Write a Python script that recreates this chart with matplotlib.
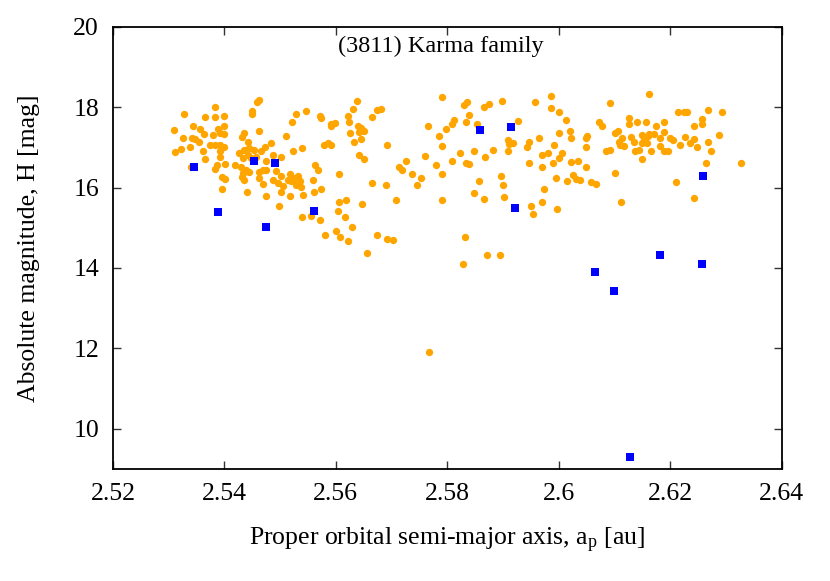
import numpy as np
import matplotlib
matplotlib.use("Agg")
import matplotlib.pyplot as plt

plt.rcParams['font.family'] = ['Liberation Serif', 'DejaVu Serif']
plt.rcParams['mathtext.fontset'] = 'custom'
plt.rcParams['mathtext.rm'] = 'Liberation Serif'
plt.rcParams['mathtext.it'] = 'Liberation Serif'

# family members (orange) : proper semi-major axis [au], absolute magnitude H [mag]
family_a = [
    2.5309, 2.5328, 2.5326, 2.5312, 2.5323, 2.5338, 2.5344, 2.5342, 2.5348, 2.5355,
    2.5356, 2.5364, 2.5366, 2.5383, 2.5383, 2.5399, 2.5399, 2.5388, 2.5380, 2.5392,
    2.5400, 2.5374, 2.5383, 2.5392, 2.5399, 2.5392, 2.5392, 2.5362, 2.5366, 2.5341,
    2.5386, 2.5383, 2.5401, 2.5396, 2.5401, 2.5396, 2.5458, 2.5463, 2.5450, 2.5450,
    2.5462, 2.5436, 2.5432, 2.5442, 2.5427, 2.5436, 2.5445, 2.5454, 2.5442, 2.5433,
    2.5448, 2.5457, 2.5466, 2.5472, 2.5484, 2.5475, 2.5487, 2.5502, 2.5419, 2.5430,
    2.5439, 2.5433, 2.5445, 2.5432, 2.5436, 2.5463, 2.5469, 2.5475, 2.5462, 2.5470,
    2.5475, 2.5441, 2.5487, 2.5493, 2.5496, 2.5502, 2.5505, 2.5502, 2.5498, 2.5510,
    2.5523, 2.5539, 2.5521, 2.5528, 2.5546, 2.5571, 2.5574, 2.5591, 2.5592, 2.5599,
    2.5578, 2.5585, 2.5592, 2.5517, 2.5514, 2.5520, 2.5526, 2.5532, 2.5535, 2.5529,
    2.5538, 2.5541, 2.5517, 2.5563, 2.5568, 2.5559, 2.5561, 2.5574, 2.5539, 2.5556,
    2.5572, 2.5580, 2.5601, 2.5604, 2.5605,
    2.5638, 2.5630, 2.5621, 2.5623, 2.5639, 2.5645, 2.5651, 2.5642, 2.5625, 2.5645,
    2.5632, 2.5664, 2.5674, 2.5681, 2.5692, 2.5642, 2.5651, 2.5664, 2.5690, 2.5714,
    2.5719, 2.5726, 2.5737, 2.5753, 2.5746, 2.5759, 2.5765, 2.5790, 2.5780, 2.5790,
    2.5785, 2.5797, 2.5808, 2.5811, 2.5790, 2.5809, 2.5823, 2.5833, 2.5839, 2.5847,
    2.5829, 2.5836, 2.5839, 2.5833, 2.5854, 2.5865, 2.5875, 2.5898, 2.5868, 2.5881,
    2.5856, 2.5847, 2.5866, 2.5896, 2.5899, 2.5902, 2.5927, 2.5908, 2.5911, 2.5918,
    2.5908, 2.5957, 2.5986, 2.5985, 2.6001, 2.5946, 2.5943, 2.5964, 2.5969, 2.5980,
    2.5991, 2.6001, 2.5947, 2.5970, 2.5990, 2.6001, 2.5995, 2.5973, 2.5969, 2.5950,
    2.5953, 2.5997, 2.5831, 2.5871, 2.5894, 2.5606, 2.5619, 2.5647, 2.5673, 2.5691,
    2.5702, 2.5708, 2.5655, 2.5617, 2.5629, 2.5607, 2.5621, 2.5790, 2.5828, 2.5767,
    2.6012, 2.6020, 2.6021, 2.6005, 2.6021, 2.6034, 2.6048, 2.6051, 2.6049, 2.6048,
    2.6015, 2.6026, 2.6030, 2.6038, 2.6057, 2.6067, 2.6091, 2.6072, 2.6078, 2.6101,
    2.6106, 2.6114, 2.6108, 2.6117, 2.6110, 2.6085, 2.6092, 2.6101, 2.6111, 2.6126,
    2.6126, 2.6140, 2.6129, 2.6135, 2.6149, 2.6149, 2.6153, 2.6160, 2.6158, 2.6162,
    2.6171, 2.6174, 2.6189, 2.6189, 2.6181, 2.6181, 2.6199, 2.6204, 2.6137, 2.6144,
    2.6150, 2.6165, 2.6189, 2.6196, 2.6157, 2.6162, 2.6211, 2.6214, 2.6225, 2.6229,
    2.6267, 2.6293, 2.6218, 2.6227, 2.6236, 2.6243, 2.6242, 2.6247, 2.6257, 2.6257,
    2.6268, 2.6273, 2.6287, 2.6264, 2.6243, 2.6327,
]
family_H = [
    17.42, 17.84, 17.22, 16.88, 16.97, 17.02, 17.54, 17.22, 17.20, 17.12,
    17.45, 17.34, 17.75, 18.00, 17.75, 17.77, 17.54, 17.45, 17.31, 17.35,
    17.32, 17.05, 17.06, 17.06, 17.02, 16.90, 16.76, 16.90, 16.71, 16.51,
    16.57, 16.46, 16.58, 16.26, 16.20, 15.97, 18.13, 18.18, 17.90, 17.83,
    17.41, 17.36, 17.26, 17.12, 16.87, 16.94, 16.98, 16.94, 16.82, 16.73,
    16.73, 16.77, 16.90, 17.02, 17.11, 16.65, 16.82, 16.77, 16.55, 16.51,
    16.44, 16.36, 16.38, 16.26, 16.19, 16.38, 16.44, 16.43, 16.24, 16.09,
    15.80, 15.88, 16.19, 16.40, 16.11, 16.28, 16.03, 15.88, 15.55, 17.27,
    16.91, 16.98, 17.64, 17.82, 17.91, 17.79, 17.74, 17.59, 17.52, 17.60,
    17.06, 17.11, 17.05, 16.34, 16.19, 16.15, 16.24, 16.28, 16.15, 16.07,
    16.01, 15.82, 15.80, 16.57, 16.43, 16.18, 15.90, 15.96, 15.27, 15.30,
    15.20, 14.82, 14.91, 15.41, 16.34,
    18.16, 17.96, 17.77, 17.62, 17.52, 17.49, 17.40, 17.37, 17.36, 17.21,
    17.12, 17.75, 17.93, 17.95, 17.06, 16.82, 16.72, 16.12, 16.06, 16.51,
    16.44, 16.65, 16.34, 16.23, 16.05, 16.79, 17.52, 18.25, 16.57, 17.04,
    17.29, 17.46, 17.58, 17.67, 16.33, 16.65, 16.87, 16.62, 16.58, 16.92,
    18.06, 18.13, 17.81, 17.64, 17.59, 18.00, 18.08, 18.16, 16.75, 16.94,
    16.17, 15.86, 15.72, 16.29, 16.05, 15.76, 17.66, 17.19, 17.08, 17.11,
    16.92, 18.13, 18.28, 17.98, 17.87, 17.12, 17.01, 17.23, 16.82, 16.87,
    17.05, 17.36, 16.61, 16.52, 16.61, 16.73, 16.23, 15.97, 15.65, 15.55,
    15.34, 15.47, 14.78, 14.33, 14.33, 15.64, 15.70, 15.59, 14.83, 14.72,
    14.70, 15.68, 14.37, 15.27, 15.02, 14.78, 14.68, 15.68, 14.10, 11.90,
    17.69, 17.40, 17.23, 16.87, 16.63, 16.67, 17.23, 17.27, 17.01, 16.51,
    16.17, 16.30, 16.22, 16.19, 16.13, 16.09, 18.10, 17.62, 17.54, 17.36,
    17.40, 17.23, 17.12, 17.04, 17.06, 16.92, 16.93, 16.37, 15.64, 17.73,
    17.58, 17.64, 17.26, 17.14, 17.31, 17.11, 17.19, 17.27, 17.11, 17.33,
    17.34, 17.54, 17.63, 17.38, 17.23, 17.04, 17.23, 17.19, 16.92, 16.94,
    16.72, 16.92, 16.92, 16.92, 17.62, 18.33, 16.13, 17.87, 17.89, 17.87,
    17.93, 17.87, 17.06, 17.26, 17.11, 17.21, 17.54, 17.00, 17.70, 17.58,
    17.12, 16.92, 17.30, 16.61, 15.75, 16.62,
]

# blue squares
other_a = [2.5345, 2.5389, 2.5453, 2.5490, 2.5474, 2.5560, 2.5858, 2.5914,
           2.5921, 2.6259, 2.6182, 2.6065, 2.6099, 2.6128, 2.6257]
other_H = [16.52, 15.39, 16.65, 16.62, 15.02, 15.42, 17.42, 17.50,
           15.49, 16.29, 14.33, 13.91, 13.43, 9.29, 14.09]

x_ticks = [2.52, 2.54, 2.56, 2.58, 2.60, 2.62, 2.64]
x_tick_labels = ['2.52', '2.54', '2.56', '2.58', '2.6', '2.62', '2.64']
y_ticks = [10, 12, 14, 16, 18, 20]

fig = plt.figure(figsize=(8.3, 5.81), dpi=100)
ax = fig.add_axes([0.136, 0.193, 0.806, 0.761])

ax.scatter(family_a, family_H, s=28, marker='o', color='#ffa500', linewidths=0, zorder=2)
ax.scatter(other_a, other_H, s=30, marker='s', color='#0000ff', linewidths=0, zorder=3)

ax.set_xlim(2.52, 2.64)
ax.set_ylim(9, 20)
ax.set_xticks(x_ticks)
ax.set_xticklabels(x_tick_labels)
ax.set_yticks(y_ticks)
ax.tick_params(direction='in', length=6, width=1, top=True, right=True,
               labelsize=18.5, pad=10, colors='#333333', labelcolor='black')
for sp in ax.spines.values():
    sp.set_linewidth(1.3)
    sp.set_color('black')

ax.set_xlabel(r'Proper orbital semi-major axis, a$_\mathrm{p}$ [au]', fontsize=18.5, labelpad=15)
ax.set_ylabel('Absolute magnitude, H [mag]', fontsize=18.5, labelpad=24)
ax.text(0.49, 0.955, '(3811) Karma family', transform=ax.transAxes,
        ha='center', va='center', fontsize=17.5)

fig.savefig('out.png', dpi=100)
